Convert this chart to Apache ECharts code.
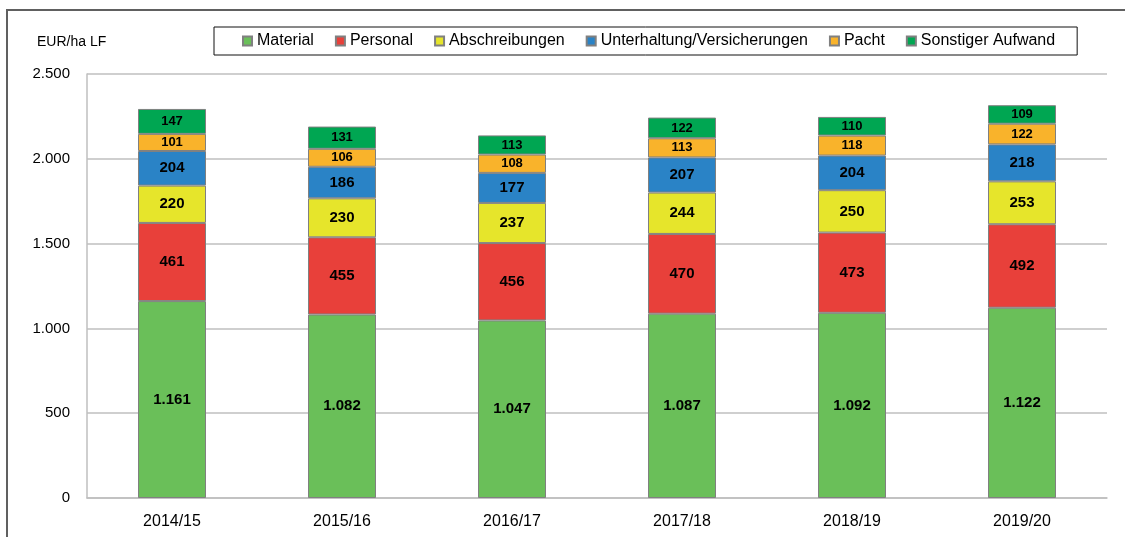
<!DOCTYPE html>
<html><head><meta charset="utf-8">
<script src="https://cdn.jsdelivr.net/npm/echarts@6/dist/echarts.min.js"></script>
<style>html,body{margin:0;padding:0;background:#fff}#c{width:1125px;height:537px}</style>
</head><body><div id="c"></div>
<script>
const categories = ['2014/15','2015/16','2016/17','2017/18','2018/19','2019/20'];
const seriesNames = ['Material','Personal','Abschreibungen','Unterhaltung/Versicherungen','Pacht','Sonstiger Aufwand'];
const material = [1161,1082,1047,1087,1092,1122];
const personal = [461,455,456,470,473,492];
const abschreibungen = [220,230,237,244,250,253];
const unterhaltung = [204,186,177,207,204,218];
const pacht = [101,106,108,113,118,122];
const sonstiger = [147,131,113,122,110,109];
const yTicks = [0,500,1000,1500,2000,2500];

const colors = ['#6abf59','#e8403a','#e6e52b','#2a83c6','#f9b32b','#00a652'];
const values = [material, personal, abschreibungen, unterhaltung, pacht, sonstiger];
const font = '"Liberation Sans", Arial, sans-serif';
const fmt = v => {
  const s = String(Math.round(v));
  return s.replace(/\B(?=(\d{3})+(?!\d))/g, '.');
};

const chart = echarts.init(document.getElementById('c'), null, {renderer:'canvas'});
chart.setOption({
  animation: false,
  backgroundColor: '#fff',
  grid: {left: 87, right: 18, top: 74, bottom: 39, containLabel: false},
  graphic: [
    {type:'rect', shape:{x:7, y:10, width:1140, height:600}, style:{fill:'none', stroke:'#606060', lineWidth:2}, z:-1},
    {type:'text', left:37, top:35, style:{text:'EUR/ha LF', font:'14px ' + font, fill:'#000'}}
  ],
  legend: {
    left: 214, top: 27,
    padding: [6, 22, 6, 28],
    borderColor: '#111', borderWidth: 1,
    itemGap: 21, itemWidth: 9, itemHeight: 9,
    icon: 'rect',
    textStyle: {fontFamily: font, fontSize: 16, color: '#000'},
    data: seriesNames
  },
  xAxis: {
    type: 'category', data: categories,
    axisLine: {lineStyle: {color: '#bfbfbf', width: 1.5}},
    axisTick: {show: false},
    axisLabel: {fontFamily: font, fontSize: 16, color: '#000', margin: 16}
  },
  yAxis: {
    type: 'value', min: yTicks[0], max: yTicks[yTicks.length-1], interval: 500,
    axisLine: {show: true, lineStyle: {color: '#bfbfbf', width: 1.5}},
    axisTick: {show: false},
    splitLine: {lineStyle: {color: '#bfbfbf', width: 1.5}},
    axisLabel: {fontFamily: font, fontSize: 15, color: '#000', margin: 17, formatter: fmt}
  },
  series: seriesNames.map((n, i) => ({
    name: n, type: 'bar', stack: 'total', barWidth: '40%',
    data: values[i],
    itemStyle: {color: colors[i], borderColor: '#808080', borderWidth: 1},
    label: {
      show: true, position: 'inside', formatter: p => fmt(p.value),
      fontFamily: font, fontWeight: 'bold', fontSize: i >= 4 ? 13 : 15, color: '#000'
    }
  }))
});
</script></body></html>
